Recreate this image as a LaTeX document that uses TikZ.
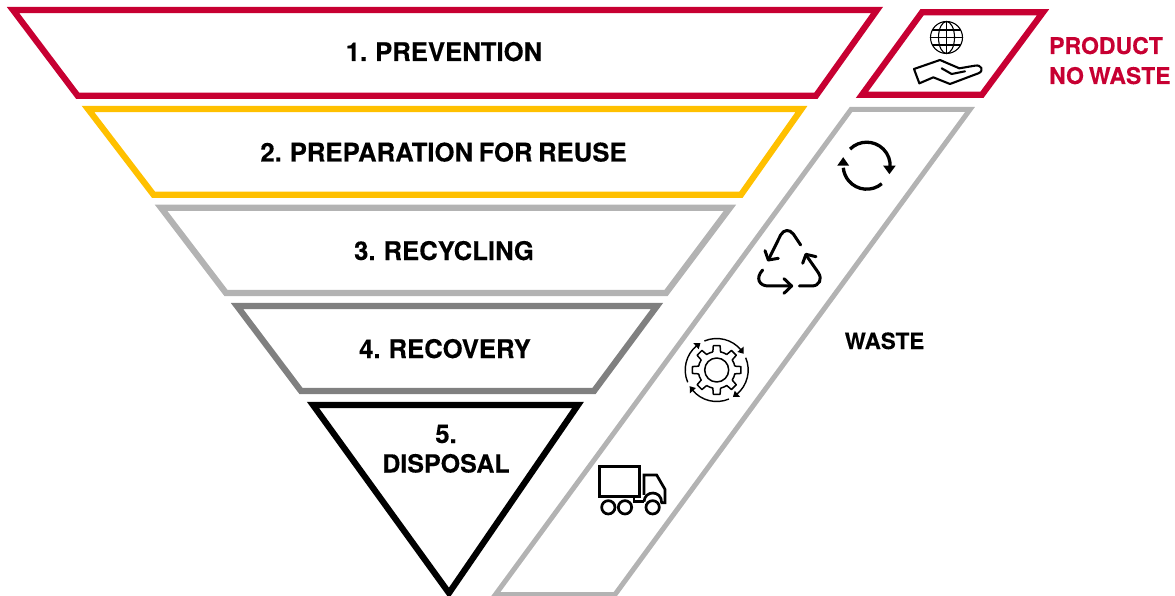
\documentclass[tikz,border=0pt]{standalone}
\usepackage{fontspec}
\setmainfont[WordSpace=0.78,BoldFeatures={FakeBold=0.25}]{TeX Gyre Heros}
\usetikzlibrary{arrows.meta}
\definecolor{cred}{HTML}{C70032}
\definecolor{cyellow}{HTML}{FFC000}
\definecolor{cgrey}{HTML}{B3B3B3}
\definecolor{cdark}{HTML}{808080}
\tikzset{
  band/.style={line width=6.2pt,miter limit=20,line join=miter},
  wasteband/.style={line width=5pt,color=cgrey,miter limit=20},
  label/.style={font=\fontsize{25.7}{30}\selectfont\bfseries,text=black,inner sep=0pt,anchor=base},
  redlabel/.style={font=\fontsize{23}{30}\selectfont\bfseries,text=cred,inner sep=0pt,anchor=base west},
  icon/.style={line width=1.5pt,line join=round,line cap=round,color=black},
  iconthick/.style={line width=3.3pt,line join=round,line cap=round,color=black},
}
\begin{document}
\begin{tikzpicture}[x=1pt,y=-1pt]
\useasboundingbox (0,0) rectangle (1175,596);
\begin{scope}
\clip (0,0) rectangle (1175,596);
% funnel bands
\draw[band,cred] (13,10) -- (877,10) -- (816,95.7) -- (77.6,95.7) -- cycle;
\draw[band,cyellow] (88,109) -- (801.5,109) -- (741,194.7) -- (153.5,194.7) -- cycle;
\draw[band,cgrey] (161,207.7) -- (730,207.7) -- (666,293) -- (226,293) -- cycle;
\draw[band,cdark] (237,306) -- (657,306) -- (594,391) -- (301,391) -- cycle;
\draw[band,black] (313,405) -- (578,405) -- (449,593) -- cycle;
% side bands
\draw[band,cred] (922,12.3) -- (1043,12.3) -- (982,94.7) -- (862,94.7) -- cycle;
\draw[wasteband] (851,109.5) -- (970,109.5) -- (615,594.5) -- (495.5,594.5) -- cycle;
\end{scope}
% labels
\node[label] (l1) at (444,61) {1. PREVENTION};
\node[label] (l2) at (443.5,161.5) {2. PREPARATION FOR REUSE};
\node[label] (l3) at (444,260) {3. RECYCLING};
\node[label] (l4) at (445,358) {4. RECOVERY};
\node[label] (l5a) at (446,443) {5.};
\node[label,font=\fontsize{25}{30}\selectfont\bfseries] (l5b) at (446,472.5) {DISPOSAL};
\node[redlabel] (p1) at (1049,54) {PRODUCT};
\node[redlabel] (p2) at (1049,84) {NO WASTE};
\node[label,font=\fontsize{22.4}{26}\selectfont\bfseries] (w) at (884.5,349) {WASTE};
% globe
\begin{scope}[shift={(946.5,37.5)},icon,line width=1.1pt]
\draw (0,0) circle (16);
\draw (0,-16) -- (0,16);
\draw (0,0) ellipse (8 and 16);
\draw (-16,0) -- (16,0);
\draw (-14,-7.5) -- (14,-7.5);
\draw (-14,7.5) -- (14,7.5);
\end{scope}
% hand
\begin{scope}[shift={(840,0)},x=0.3333pt,y=-0.3333pt,line width=2.1pt,line join=round,line cap=round]
\draw (222,207) -- (300,180) -- (358,205) -- (405,197)
  .. controls (425,193) and (433,213) .. (415,220)
  -- (330,252) -- (280,232) -- (238,250) -- cycle;
\draw (305,205) -- (335,222) -- (375,214);
\end{scope}
% sync arrows
\begin{scope}[shift={(866.7,165.7)}]
\draw[iconthick,line cap=butt] (-135:23.5) arc[start angle=-135,end angle=5,radius=23.5];
\draw[iconthick,line cap=butt] (50:23.5) arc[start angle=50,end angle=175,radius=23.5];
\fill (16.5,0) -- (29,0) -- (22.7,8.5) -- cycle;
\fill (-29.5,0) -- (-17.5,0) -- (-23.5,-8.5) -- cycle;
\end{scope}
% recycling arrows
\begin{scope}[shift={(670,210)},x=0.3333pt,y=-0.3333pt,line width=3pt,line join=round,line cap=round]
\draw (392,105) -- (370,72) .. controls (358,57) and (342,58) .. (332,75) -- (295,150);
\draw (285,122) -- (295,150) -- (325,145);
\draw (388,228) -- (425,228) .. controls (448,228) and (458,208) .. (445,188) -- (408,135);
\draw (398,160) -- (408,133) -- (438,140);
\draw (278,180) .. controls (255,205) and (268,228) .. (295,228) -- (365,228);
\draw (342,206) -- (365,228) -- (342,250);
\end{scope}
% gear
\begin{scope}[shift={(716.7,370)},line width=1.5pt,line join=round]
\draw (0,0) circle (12);
\draw
  \foreach \a in {0,45,...,315} {
    (\a-12:18.5) -- (\a-8:24.5) -- (\a+8:24.5) -- (\a+12:18.5) arc[start angle=\a+12,end angle=\a+33,radius=18.5]
  };
\foreach \a in {-75,15,105,195} {
  \draw[line width=1.4pt] (\a-38:31.5) arc[start angle=\a-38,end angle=\a+36,radius=31.5];
  \fill (\a+44:31.5) -- (\a+34:35.5) -- (\a+34:27.5) -- cycle;
}
\end{scope}
% truck
\begin{scope}[shift={(480,440)},x=0.3333pt,y=-0.3333pt,line width=2.7pt,line join=miter]
\draw (358,80) rectangle (478,170);
\draw (462,170) -- (462,185) -- (492,185);
\draw (492,165) -- (492,105) -- (530,105) -- (555,148) -- (555,188) -- (542,188);
\draw (492,185) .. controls (494,150) and (545,150) .. (545,188);
\draw (385,202) circle[radius=20];
\draw (435,202) circle[radius=20];
\draw (518,202) circle[radius=20];
\end{scope}
\end{tikzpicture}
\end{document}
